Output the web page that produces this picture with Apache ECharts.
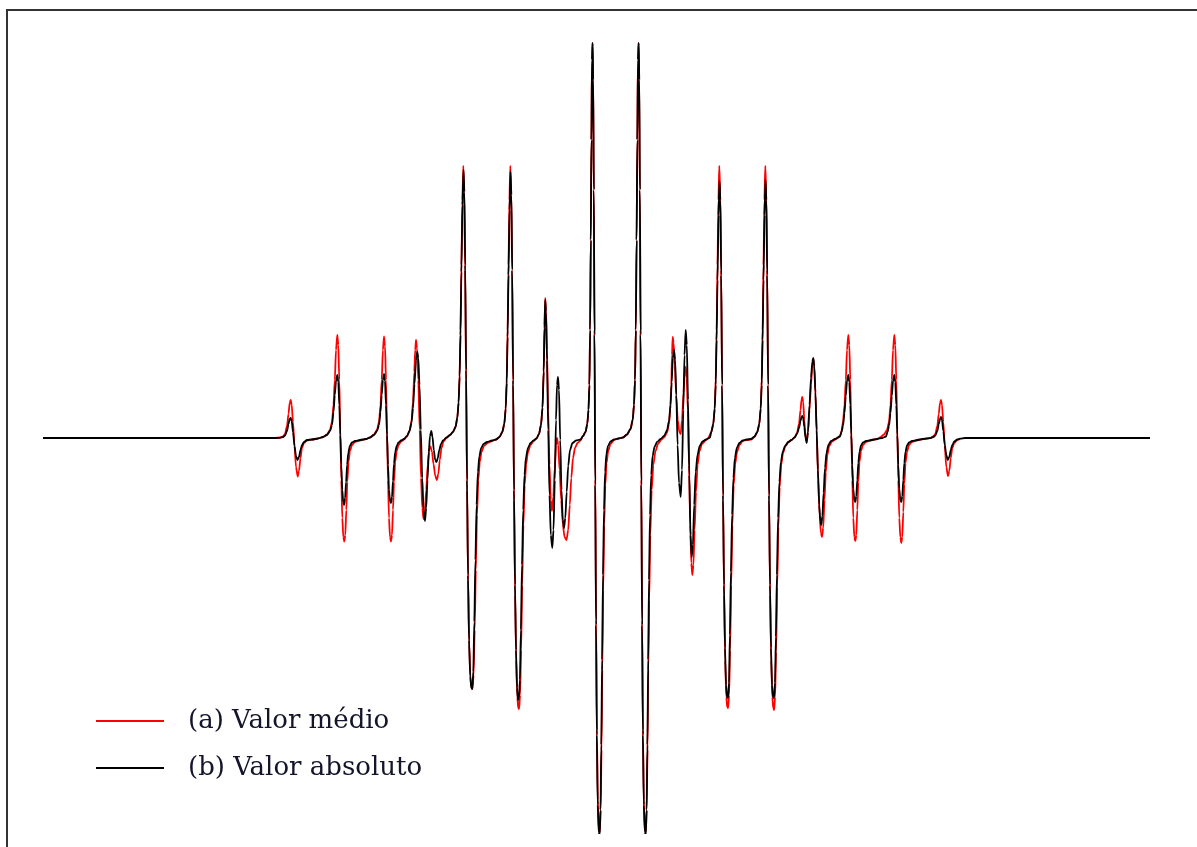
<!DOCTYPE html>
<html>
<head>
<meta charset="utf-8">
<title>Espectro - valor médio e valor absoluto</title>
<script src="https://cdn.jsdelivr.net/npm/echarts@6/dist/echarts.min.js"></script>
<style>
  html, body { margin: 0; padding: 0; background: #ffffff; }
  #chart { width: 1197px; height: 847px; }
</style>
</head>
<body>
<div id="chart"></div>
<script>
// Series names shown in the legend
const nomes = ['(a) Valor médio', '(b) Valor absoluto'];

// Field axis (arbitrary units) and signal (arbitrary units)
const campoMin = 0, campoMax = 1107;
const sinalMin = -395, sinalMax = 395;

// (a) Valor médio: [campo, sinal]
const valorMedio = [
  [210,0],[232,0],[237,0.5],
  [240,1.5],[242,4],[244,12],[245.5,24],[246.7,35],[247.7,38],[248.7,33],[250,16],[251.5,-8],[253,-29],[254.7,-38.5],[256,-33],[257.5,-20],[259,-10],[261,-5],[264,-2.5],[269,-1.5],
  [275,-0.5],[280,1],[284,3.5],[287,8],[289,16],[290.5,33],[291.8,58],[293,88],[294.3,103],[295.3,93],[296.3,58],[297.3,8],[298.3,-42],[299.3,-80],[300.3,-99],[301.3,-103.5],[302.3,-97],[303.3,-72],[304.3,-44],[305.5,-24],[307,-13],[309,-7],[312,-4],[317,-2.5],[323,-1],
  [327,0.5],[331,3.5],[334,8],[336,16],[337.5,33],[338.7,58],[339.9,88],[341,101.5],[342,92],[343,58],[344,8],[345,-42],[346,-80],[347,-99],[348,-103.5],[349,-97],[350,-72],[351,-44],[352.2,-24],[353.7,-13],[355.5,-7],[358,-3.5],
  [361,-1.5],[364,1.5],[366.5,7],[368.5,17],[370,36],[371.3,66],[372.2,88],[373,98],[374,90],[375.3,58],[376.7,8],[378,-40],[379.3,-70],[380.5,-81],[381.8,-75],[383.2,-52],[384.7,-27],[386.3,-11],[387.5,-8.5],[389,-14],[390.5,-26],[392.3,-38],[393.8,-42],[395.3,-36],[396.8,-22],[398.5,-10],[400.5,-3.5],[403.5,0],
  [407,3],[410,6],[412.5,11],[414.3,20],[415.6,36],[416.6,63],[417.5,108],[418.4,173],[419.4,238],[420.3,272],[421.2,246],[422.1,168],[423.1,58],[424.1,-52],[425.1,-142],[426.2,-207],[427.4,-240],[428.5,-250],[429.5,-251],[430.6,-237],[431.7,-192],[432.8,-132],[434,-77],[435.3,-42],[436.8,-24],[438.5,-14],[441,-8],[444.5,-5],[449,-3],
  [453,-1.5],[456.5,1],[459.3,6],[461.3,14],[462.7,30],[463.7,58],[464.6,108],[465.5,173],[466.4,238],[467.3,272],[468.2,246],[469.1,168],[470.1,53],[471.1,-62],[472.1,-157],[473.2,-222],[474.3,-259],[475.2,-270],[476.1,-271],[477.1,-257],[478.1,-212],[479.2,-147],[480.4,-87],[481.7,-47],[483.2,-26],[485,-14],[487.5,-7],[490.5,-3],
  [493.5,-0.5],[496,4],[498,13],[499.5,30],[500.7,68],[501.5,113],[502.2,140],[503,128],[504,88],[505.2,28],[506.5,-27],[507.8,-62],[509,-73],[510.3,-59],[511.7,-30],[513,-7],[514,0],[515.2,-7],[516.6,-32],[518.2,-62],[519.8,-86],[521.5,-99],[523.5,-102],[525.2,-92],[526.8,-67],[528.3,-40],[530,-20],[532,-10],[534.5,-5],[537.5,-2.5],
  [540,2],[542.5,6],[544.3,14],[545.5,28],[546.4,53],[547.1,108],[547.8,198],[548.4,298],[549,378],[549.5,395],[550.1,363],[550.8,248],[551.5,108],[552.3,-42],[553.1,-182],[553.9,-292],[554.8,-362],[555.8,-390],[556.8,-394],[557.7,-372],[558.5,-312],[559.3,-232],[560.2,-152],[561.2,-87],[562.3,-47],[563.6,-25],[565.2,-13],[567.5,-6],[571,-2],[575.5,-0.5],
  [580,0.5],[584,3.5],[587.5,9],[589.7,18],[591,33],[592,58],[592.8,108],[593.6,198],[594.3,298],[594.9,378],[595.5,395],[596.1,363],[596.8,248],[597.5,108],[598.3,-42],[599.1,-182],[599.9,-292],[600.8,-362],[601.8,-390],[602.8,-394],[603.7,-372],[604.5,-312],[605.3,-232],[606.2,-162],[607.3,-97],[608.7,-52],[610.3,-27],[612.5,-13],[615,-6],[618,-2],
  [621.5,1],[624,5.5],[626,14],[627.3,28],[628.3,53],[629,83],[629.7,101],[630.6,95],[631.8,73],[633.2,43],[634.8,18],[636.3,6],[637.7,4],[639,18],[640.5,45],[641.7,65],[642.7,71],[643.7,60],[644.8,28],[646,-27],[647.2,-87],[648.3,-125],[649.3,-137],[650.4,-127],[651.6,-92],[653,-54],[654.6,-27],[656.5,-13],[659,-6],[662.5,-2.5],[665,-0.5],
  [668.3,6],[670.3,14],[671.7,30],[672.7,58],[673.6,108],[674.5,173],[675.4,238],[676.3,272],[677.2,246],[678.1,168],[679.1,53],[680.1,-62],[681.1,-157],[682.2,-222],[683.3,-259],[684.2,-269],[685.1,-270],[686.1,-257],[687.1,-212],[688.2,-147],[689.4,-87],[690.7,-47],[692.2,-26],[694,-14],[696.5,-7],[699.5,-3],[703.5,-2],
  [708,-1.5],[711.5,1],[714.3,6],[716.3,14],[717.7,30],[718.7,58],[719.6,108],[720.5,173],[721.4,238],[722.3,272],[723.2,246],[724.1,168],[725.1,53],[726.1,-62],[727.1,-157],[728.2,-222],[729.3,-259],[730.2,-270],[731.1,-272],[732.1,-259],[733.1,-214],[734.2,-149],[735.4,-89],[736.7,-49],[738.2,-27],[740,-15],[742.5,-8],[745.5,-4],
  [748.5,-2],[751.5,0.5],[754,5],[756,14],[757.5,28],[758.5,38],[759.3,41],[760.2,36],[761.3,18],[762.5,1],[763.7,-3],[765,6],[766.5,28],[768,53],[769.3,73],[770.3,79],[771.3,70],[772.5,43],[773.8,3],[775.2,-42],[776.6,-77],[777.9,-95],[779,-99],[780.2,-90],[781.5,-62],[782.8,-34],[784.3,-17],[786.2,-8],[789,-3.5],[793,-1],
  [797,2],[798.5,7],[800,16],[801.5,33],[802.8,58],[804,88],[805.3,103],[806.3,93],[807.3,58],[808.3,8],[809.3,-42],[810.3,-80],[811.3,-99],[812.3,-103],[813.3,-97],[814.3,-72],[815.3,-44],[816.5,-24],[818,-13],[820,-7],[823,-4],[828,-2.5],[834,-1],
  [837,0.5],[841,3.5],[844,8],[846,16],[847.5,33],[848.8,58],[850,88],[851.3,103],[852.3,93],[853.3,58],[854.3,8],[855.3,-42],[856.3,-80],[857.3,-99],[858.3,-105],[859.3,-99],[860.3,-74],[861.3,-46],[862.5,-25],[864,-14],[866,-7],[869,-4],[874,-2.5],[880,-1],
  [887,0],[890.3,1.5],[892.3,4],[894.3,12],[895.8,24],[897,35],[898,38],[899,33],[900.3,16],[901.8,-8],[903.3,-29],[905,-38],[906.3,-33],[907.8,-20],[909.3,-10],[911.3,-5],[914.3,-2],[917,-1]
];

// (b) Valor absoluto: [campo, sinal]
const valorAbsoluto = [
  [0,0],[107,0],[207,0],[232,0],[237,0.2],
  [240,1],[242,2.5],[244,7],[245.5,14],[246.7,19],[247.7,20],[248.7,17],[250,6],[251.5,-8],[253,-18],[254.5,-22],[256,-19],[257.5,-12],[259,-7],[261,-4],[264,-2],[269,-1.5],
  [275,-0.5],[280,1],[284,3],[287,7],[289,13],[290.5,26],[291.8,43],[293,57],[294.3,63],[295.3,56],[296.3,33],[297.3,3],[298.3,-27],[299.3,-52],[300.2,-64],[301.1,-67],[302.1,-60],[303.1,-44],[304.1,-27],[305.3,-15],[306.8,-8],[309,-4.5],[312,-3],[317,-2],[323,-1],
  [327,0.5],[331,3],[334,7],[336,13],[337.5,26],[338.7,43],[339.9,58],[341,64],[342,57],[343,33],[344,3],[345,-27],[346,-52],[347,-63],[348,-65],[349,-59],[350,-43],[351,-26],[352.2,-14],[353.7,-8],[355.5,-4.5],[358,-2.5],
  [361,-1],[364,2],[366.5,7],[368.5,15],[370,30],[371.5,54],[373,78],[374.3,86],[375.3,80],[376.5,53],[377.8,8],[379.2,-40],[380.6,-72],[382,-83],[383.2,-70],[384.5,-42],[385.8,-14],[387,2],[388.3,7],[389.5,1],[390.8,-12],[392.2,-22],[393.5,-24],[394.8,-20],[396.3,-12],[398,-6],[400,-2.5],[403.5,0.5],
  [407,3],[410,6],[412.5,11],[414.3,20],[415.6,35],[416.6,61],[417.5,103],[418.4,166],[419.4,233],[420.5,268],[421.4,246],[422.2,173],[423.1,68],[424,-42],[425,-137],[426,-202],[427.2,-238],[428.3,-250],[429.3,-251],[430.3,-234],[431.3,-184],[432.4,-122],[433.6,-67],[434.9,-34],[436.4,-18],[438.2,-10],[440.5,-6],[444,-4],[449,-2.5],
  [453,-1.5],[456.5,1],[459.3,6],[461.3,14],[462.7,29],[463.7,55],[464.6,101],[465.5,163],[466.5,228],[467.5,266],[468.4,243],[469.2,168],[470.1,58],[471,-52],[472,-147],[473,-212],[474,-250],[475,-262],[476,-260],[476.9,-242],[477.9,-192],[479,-127],[480.2,-72],[481.5,-37],[483,-19],[485,-10],[487.5,-5],[490.5,-2.5],
  [493.5,-0.5],[496,4],[498,13],[499.5,30],[500.7,66],[501.5,110],[502.2,138],[503,126],[504,78],[505.2,8],[506.5,-57],[507.8,-97],[509.3,-110],[510.5,-92],[511.8,-42],[513,18],[514,53],[515,61],[516,48],[517.2,-2],[518.5,-52],[519.8,-82],[521,-90],[522.3,-80],[523.7,-54],[525.2,-28],[527,-12],[529.5,-5],[533,-2.5],[537.5,-1.5],
  [540,2],[542.5,6],[544.3,14],[545.5,28],[546.4,53],[547.1,108],[547.8,198],[548.4,298],[549,378],[549.6,395],[550.2,358],[550.8,248],[551.5,103],[552.2,-47],[553,-187],[553.8,-297],[554.7,-367],[555.7,-394],[556.7,-397],[557.5,-372],[558.3,-307],[559.1,-222],[560,-137],[561,-72],[562.1,-34],[563.4,-16],[565,-8],[567.5,-3.5],[571,-1.5],[575.5,-0.5],
  [580,0.5],[584,3.5],[587.5,9],[589.7,18],[591,33],[592,58],[592.8,108],[593.6,198],[594.3,298],[595,378],[595.7,395],[596.3,358],[596.9,248],[597.6,103],[598.3,-47],[599.1,-187],[599.9,-297],[600.8,-367],[601.8,-394],[602.8,-397],[603.6,-372],[604.4,-307],[605.2,-222],[606,-142],[607,-77],[608.2,-37],[609.6,-18],[611.5,-9],[614,-4],[617.5,-1],
  [621,2],[624,7.5],[626,17],[627.5,33],[628.7,56],[629.8,80],[631,88],[632.1,78],[633.3,43],[634.6,-7],[636,-45],[637.7,-59],[639,-32],[640.3,28],[641.5,83],[642.7,108],[643.8,93],[645,38],[646.3,-37],[647.5,-97],[648.7,-119],[649.9,-107],[651.2,-67],[652.7,-34],[654.5,-17],[656.7,-8],[659.5,-3.5],[663,-1.5],[667,0.5],
  [668.3,6],[670.3,14],[671.7,29],[672.7,53],[673.6,98],[674.5,158],[675.5,223],[676.5,257],[677.4,238],[678.2,163],[679.1,53],[680,-57],[681,-147],[682,-210],[683,-247],[684,-259],[685,-260],[686,-245],[686.9,-197],[687.9,-134],[689.1,-77],[690.4,-40],[691.9,-20],[693.8,-10],[696.3,-5],[699.5,-2.5],[703.5,-1.5],
  [708,-1],[711.5,1.5],[714.3,6],[716.3,14],[717.7,29],[718.7,53],[719.6,98],[720.5,158],[721.5,223],[722.5,258],[723.4,238],[724.2,163],[725.1,53],[726,-57],[727,-147],[728,-210],[729,-247],[730,-259],[731,-260],[732,-245],[732.9,-199],[733.9,-137],[735.1,-80],[736.4,-44],[737.9,-24],[739.7,-14],[742,-8],[745.3,-4],
  [748.5,-2],[751.5,0.5],[754,4],[756,10],[757.5,17],[758.5,21],[759.3,22],[760.2,20],[761.3,11],[762.5,0],[763.7,-5],[765,6],[766.5,33],[768,60],[769.3,76],[770.3,80],[771.3,72],[772.4,46],[773.6,8],[774.9,-32],[776.2,-67],[777.3,-83],[778.3,-87],[779.4,-78],[780.6,-55],[782,-30],[783.5,-15],[785.4,-7],[788,-3],[792,-1],
  [797,1.5],[798.5,6],[800,12],[801.5,25],[802.8,42],[804,57],[805.3,63],[806.3,56],[807.3,33],[808.3,3],[809.3,-27],[810.3,-51],[811.3,-62],[812.3,-64],[813.3,-58],[814.3,-42],[815.3,-25],[816.5,-14],[818,-7.5],[820,-4.5],[823,-3],[828,-2],[834,-1],
  [839,0],[843,1.5],[844.5,6],[846,12],[847.5,25],[848.8,42],[850,57],[851.3,63],[852.3,56],[853.3,33],[854.3,3],[855.3,-27],[856.3,-51],[857.3,-62],[858.3,-64],[859.3,-58],[860.3,-42],[861.3,-25],[862.5,-14],[864,-7.5],[866,-4.5],[869,-3],[874,-2],[880,-1],
  [887,-0.2],[890.3,1],[892.3,2.5],[894.3,7],[895.8,14],[897,19],[898,21],[899,18],[900.3,7],[901.8,-7],[903.3,-17],[904.8,-22],[906.3,-19],[907.8,-12],[909.3,-7],[911.3,-3.5],[914.3,-1.5],[917,-0.7],[922,0],[1000,0],[1107,0]
];

const chart = echarts.init(document.getElementById('chart'), null, { renderer: 'canvas' });

chart.setOption({
  animation: false,
  backgroundColor: '#ffffff',
  grid: { left: 43, right: 47, top: 43, bottom: 14, containLabel: false },
  xAxis: {
    type: 'value', min: campoMin, max: campoMax,
    show: false, splitLine: { show: false }
  },
  yAxis: {
    type: 'value', min: sinalMin, max: sinalMax,
    show: false, splitLine: { show: false }
  },
  legend: {
    data: nomes,
    orient: 'vertical',
    left: 91,
    top: 703,
    itemWidth: 68,
    itemHeight: 14,
    itemGap: 21,
    icon: 'path://M0,6 L68,6 L68,8 L0,8 Z',
    textStyle: {
      fontFamily: 'DejaVu Serif',
      fontSize: 26,
      color: '#14142a',
      padding: [0, 0, 0, 19]
    }
  },
  graphic: [
    {
      type: 'rect',
      silent: true,
      shape: { x: 7, y: 10, width: 1300, height: 1000 },
      style: { fill: 'none', stroke: '#333333', lineWidth: 2 }
    }
  ],
  series: [
    {
      name: nomes[0],
      type: 'line',
      data: valorMedio,
      symbol: 'none',
      smooth: 0.25,
      smoothMonotone: 'x',
      color: '#ff0000',
      lineStyle: { color: '#ff0000', width: 1.8 },
      z: 2
    },
    {
      name: nomes[1],
      type: 'line',
      data: valorAbsoluto,
      symbol: 'none',
      smooth: 0.25,
      smoothMonotone: 'x',
      color: '#000000',
      lineStyle: { color: '#000000', width: 1.8 },
      z: 3
    }
  ]
});
</script>
</body>
</html>
